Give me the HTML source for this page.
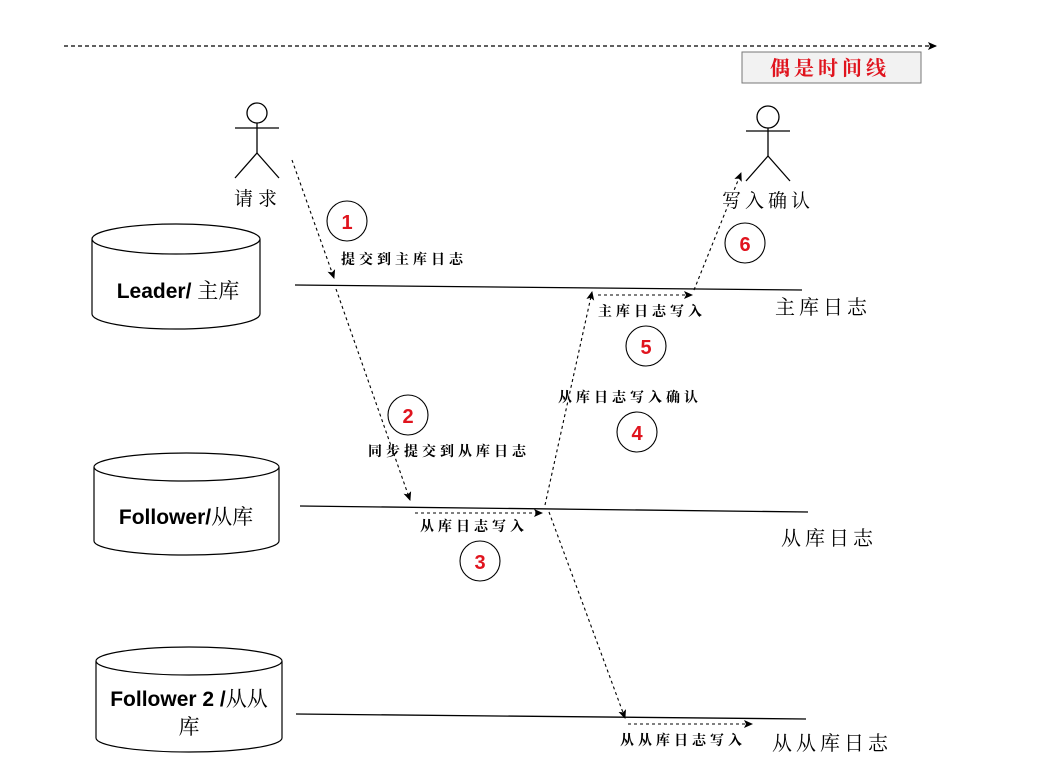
<!DOCTYPE html>
<html><head><meta charset="utf-8"><style>
html,body{margin:0;padding:0;background:#fff;}
svg{display:block;}
text{font-family:"Liberation Sans","Noto Serif CJK SC","Noto Sans CJK SC",sans-serif;}
.cjk{font-family:"Noto Serif CJK SC","WenQuanYi Zen Hei",serif;}
</style></head><body>
<svg width="1041" height="773" viewBox="0 0 1041 773" xmlns="http://www.w3.org/2000/svg">
<defs>
<marker id="a" markerWidth="10" markerHeight="10" refX="8" refY="4" orient="auto" markerUnits="userSpaceOnUse">
<path d="M0,0 L9,4 L0,8 L2,4 z" fill="#000"/>
</marker>
</defs>
<line x1="64" y1="46" x2="936" y2="46" stroke="#000" stroke-width="1.2" stroke-dasharray="4,3" marker-end="url(#a)"/>
<rect x="742" y="52" width="179" height="31" fill="#f2f2f2" stroke="#777" stroke-width="1"/>
<text x="770" y="75" class="cjk" font-size="20" fill="#e0141e" font-weight="bold" letter-spacing="4">偶是时间线</text>

<g stroke="#000" stroke-width="1.3" fill="none">
<circle cx="257" cy="113" r="10" fill="#fff"/>
<line x1="235" y1="128" x2="279" y2="128"/>
<line x1="257" y1="123" x2="257" y2="153"/>
<line x1="235" y1="178" x2="257" y2="153"/>
<line x1="279" y1="178" x2="257" y2="153"/>
<circle cx="768" cy="117" r="11" fill="#fff"/>
<line x1="746" y1="131" x2="790" y2="131"/>
<line x1="768" y1="128" x2="768" y2="156"/>
<line x1="746" y1="181" x2="768" y2="156"/>
<line x1="790" y1="181" x2="768" y2="156"/>
</g>
<text x="234" y="205" class="cjk" font-size="19" letter-spacing="5">请求</text>
<text x="722" y="207" class="cjk" font-size="19" letter-spacing="4">写入确认</text>

<g stroke="#000" stroke-width="1.2" fill="#fff">
<path d="M92,239 L92,314 A84,15 0 0 0 260,314 L260,239"/>
<ellipse cx="176" cy="239" rx="84" ry="15"/>
<path d="M94,467 L94,541 A92.5,14 0 0 0 279,541 L279,467"/>
<ellipse cx="186.5" cy="467" rx="92.5" ry="14"/>
<path d="M96,661 L96,738 A93,14 0 0 0 282,738 L282,661"/>
<ellipse cx="189" cy="661" rx="93" ry="14"/>
</g>
<text x="178" y="298" text-anchor="middle" font-size="21" font-weight="bold">Leader/ <tspan class="cjk" font-weight="normal">主库</tspan></text>
<text x="186" y="524" text-anchor="middle" font-size="21" font-weight="bold">Follower/<tspan class="cjk" font-weight="normal">从库</tspan></text>
<text x="189" y="706" text-anchor="middle" font-size="21" font-weight="bold">Follower 2 /<tspan class="cjk" font-weight="normal">从从</tspan></text>
<text x="189" y="734" text-anchor="middle" class="cjk" font-size="21">库</text>

<g stroke="#000" stroke-width="1.3">
<line x1="295" y1="285" x2="802" y2="290"/>
<line x1="300" y1="506" x2="808" y2="512"/>
<line x1="296" y1="714" x2="806" y2="719"/>
</g>
<g class="cjk" font-size="20" letter-spacing="4">
<text x="775" y="314">主库日志</text>
<text x="781" y="545">从库日志</text>
<text x="772" y="750">从从库日志</text>
</g>

<g stroke="#000" stroke-width="1.1" stroke-dasharray="3,3" fill="none">
<line x1="292" y1="160" x2="334" y2="278" marker-end="url(#a)"/>
<line x1="336" y1="289" x2="410" y2="500" marker-end="url(#a)"/>
<line x1="415" y1="513" x2="542" y2="513" marker-end="url(#a)"/>
<line x1="545" y1="505" x2="592" y2="292" marker-end="url(#a)"/>
<line x1="598" y1="295" x2="692" y2="295" marker-end="url(#a)"/>
<line x1="694" y1="290" x2="741" y2="173" marker-end="url(#a)"/>
<line x1="549" y1="512" x2="625" y2="718" marker-end="url(#a)"/>
<line x1="628" y1="724" x2="752" y2="724" marker-end="url(#a)"/>
</g>

<g stroke="#000" stroke-width="1.1" fill="#fff">
<circle cx="347" cy="221" r="20"/>
<circle cx="408" cy="415" r="20"/>
<circle cx="480" cy="561" r="20"/>
<circle cx="637" cy="432" r="20"/>
<circle cx="646" cy="346" r="20"/>
<circle cx="745" cy="243" r="20"/>
</g>
<g font-size="20" font-weight="bold" fill="#e0141e" text-anchor="middle">
<text x="347" y="229">1</text>
<text x="408" y="423">2</text>
<text x="480" y="569">3</text>
<text x="637" y="440">4</text>
<text x="646" y="354">5</text>
<text x="745" y="251">6</text>
</g>

<g class="cjk" font-size="14" font-weight="bold" letter-spacing="4">
<text x="341" y="264">提交到主库日志</text>
<text x="368" y="456">同步提交到从库日志</text>
<text x="420" y="531">从库日志写入</text>
<text x="558" y="402">从库日志写入确认</text>
<text x="598" y="316">主库日志写入</text>
<text x="620" y="745">从从库日志写入</text>
</g>
</svg>
</body></html>
